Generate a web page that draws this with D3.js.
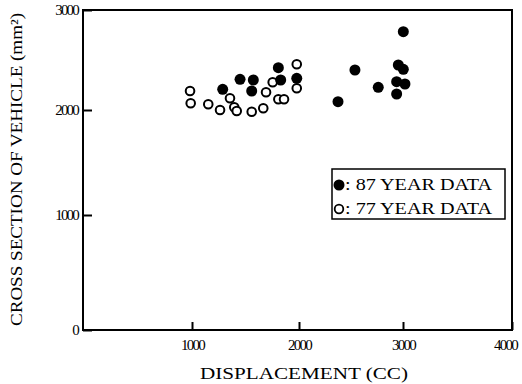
<!DOCTYPE html>
<html>
<head>
<meta charset="utf-8">
<script src="https://cdn.jsdelivr.net/npm/d3@7"></script>
<style>
  html, body { margin: 0; padding: 0; background: #fff; }
  svg { display: block; }
  text { font-family: "Liberation Serif", "DejaVu Serif", serif; fill: #000; }
</style>
</head>
<body>
<svg id="chart" width="522" height="384"></svg>
<script>
// ---- data ----
const xTicks = [1000, 2000, 3000, 4000];
const yTicks = [0, 1000, 2000, 3000];

// 87 YEAR DATA (filled circles): displacement (cc), cross section
const data87x = [1287, 1449, 1573, 1558, 1807, 1829, 1979, 2375, 2538, 2762, 2939, 2955, 3003, 3018, 2939, 3003];
const data87y = [2207, 2307, 2300, 2190, 2423, 2300, 2317, 2083, 2400, 2227, 2283, 2450, 2407, 2260, 2160, 2783];

// 77 YEAR DATA (open circles)
const data77x = [982, 988, 1152, 1262, 1355, 1395, 1418, 1558, 1666, 1692, 1754, 1807, 1860, 1979, 1979];
const data77y = [2190, 2067, 2057, 2000, 2117, 2027, 1990, 1984, 2017, 2177, 2277, 2107, 2107, 2457, 2217];

const legendLabels = [": 87 YEAR DATA", ": 77 YEAR DATA"];
const xTitle = "DISPLACEMENT (CC)";
const yTitle = "CROSS SECTION OF VEHICLE (mm\u00B2)";

// ---- scales ----
const svg = d3.select("#chart");
const x = d3.scaleLinear().domain([0, 1000, 2000, 3000, 4000]).range([83, 192, 299, 403, 512]);
const y = d3.scaleLinear().domain([0, 1000, 2000, 3000]).range([330, 215, 110, 10]);

// ---- axes ----
const yAxis = d3.axisLeft(y).tickValues(yTicks).tickSize(-9).tickPadding(5).tickFormat(d3.format("d"));
const xAxis = d3.axisBottom(x).tickValues(xTicks).tickSize(-8).tickPadding(9).tickFormat(d3.format("d"));

const gy = svg.append("g").attr("transform", "translate(83,0)").call(yAxis);
const gx = svg.append("g").attr("transform", "translate(0,330)").call(xAxis);
[gy, gx].forEach(g => {
  g.attr("font-size", null).attr("font-family", null);
  g.select(".domain").remove();
  g.selectAll(".tick line").attr("stroke", "#000").attr("stroke-width", 2);
  g.selectAll(".tick text")
    .style("font-family", "'Liberation Serif', serif")
    .style("font-size", "15px")
    .style("letter-spacing", "-1.8px")
    .attr("fill", "#000");
});
// keep the last x label inside the picture, as in the reference
gx.selectAll(".tick text").filter(d => d === 4000).attr("dx", -7);

// frame
svg.append("rect")
  .attr("x", x(0)).attr("y", y(3000))
  .attr("width", x(4000) - x(0)).attr("height", y(0) - y(3000))
  .attr("fill", "none").attr("stroke", "#000").attr("stroke-width", 2);

// ---- points ----
const pts77 = data77x.map((d, i) => ({ x: d, y: data77y[i] }));
const pts87 = data87x.map((d, i) => ({ x: d, y: data87y[i] }));

svg.append("g").selectAll("circle").data(pts77).join("circle")
  .attr("cx", d => x(d.x)).attr("cy", d => y(d.y)).attr("r", 4.3)
  .attr("fill", "#fff").attr("stroke", "#000").attr("stroke-width", 2);

svg.append("g").selectAll("circle").data(pts87).join("circle")
  .attr("cx", d => x(d.x)).attr("cy", d => y(d.y)).attr("r", 5.5)
  .attr("fill", "#000");

// ---- legend ----
const lg = svg.append("g");
lg.append("rect").attr("x", 332).attr("y", 169).attr("width", 173).attr("height", 50)
  .attr("fill", "#fff").attr("stroke", "#000").attr("stroke-width", 1.5);
lg.append("circle").attr("cx", 339).attr("cy", 185).attr("r", 5.5).attr("fill", "#000");
lg.append("circle").attr("cx", 339).attr("cy", 209).attr("r", 4.3)
  .attr("fill", "#fff").attr("stroke", "#000").attr("stroke-width", 1.8);
legendLabels.forEach((t, i) => {
  lg.append("text").attr("x", 345).attr("y", 190 + i * 24)
    .attr("font-size", 16).attr("textLength", 147).attr("lengthAdjust", "spacingAndGlyphs")
    .text(t);
});

// ---- titles ----
svg.append("text").attr("x", 200).attr("y", 379)
  .attr("font-size", 16).attr("textLength", 208).attr("lengthAdjust", "spacingAndGlyphs")
  .text(xTitle);

svg.append("text")
  .attr("transform", "translate(22,326) rotate(-90)")
  .attr("font-size", 16).attr("textLength", 313).attr("lengthAdjust", "spacingAndGlyphs")
  .text(yTitle);
</script>
</body>
</html>
